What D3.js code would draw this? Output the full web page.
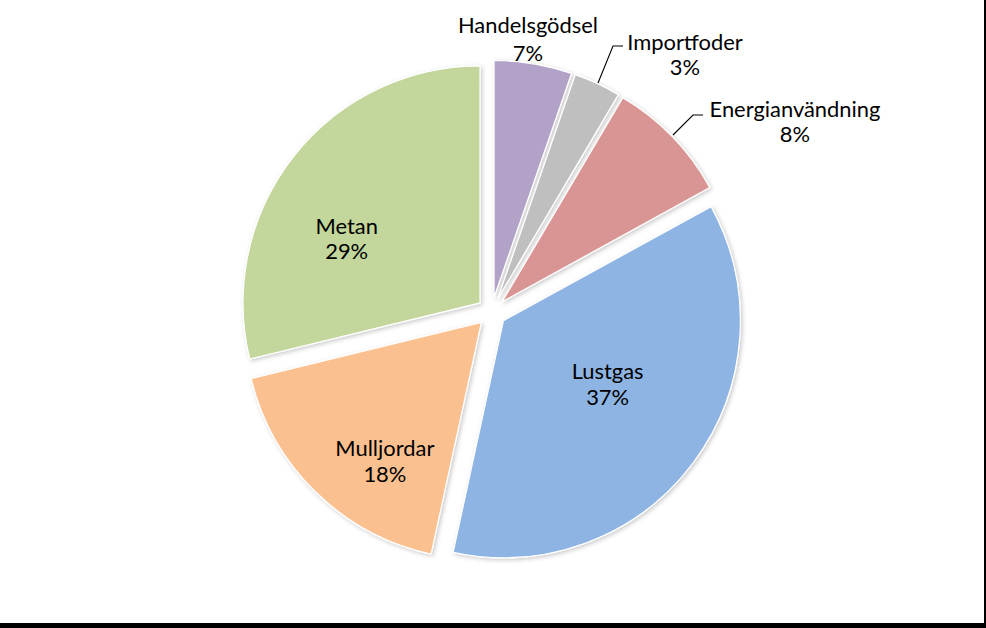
<!DOCTYPE html>
<html>
<head>
<meta charset="utf-8">
<script src="https://cdn.jsdelivr.net/npm/d3@7"></script>
<style>
  html, body { margin: 0; padding: 0; background: #fff; }
  svg { display: block; }
</style>
</head>
<body>
<svg id="chart" width="986" height="628"></svg>
<script>
// ---- data ----
const categories = ["Handelsgödsel", "Importfoder", "Energianvändning", "Lustgas", "Mulljordar", "Metan"];
const shares = [5.3, 3.2, 8.5, 36.4, 17.8, 28.8];          // slice sizes
const percentLabels = ["7%", "3%", "8%", "37%", "18%", "29%"]; // label text as printed
const colors = ["#B2A2C7", "#BFBFBF", "#D99594", "#8EB4E3", "#FAC090", "#C3D69B"];

// ---- layout ----
const W = 986, H = 628;
const cx = 491.6, cy = 312, R = 237, explode = 14.7;
const fontFamily = "Lato, 'Open Sans', sans-serif";
const lineGap = 25.5;

// label placement: inside labels relative to slice apex (angle deg clockwise from north, distance px)
// outside labels: centre x, first baseline y, line gap and leader polyline
const labelLayout = [
  { outside: true, x: 528, y: 33, gap: 27.5 },
  { outside: true, x: 685, y: 50, gap: 25, leader: [[598, 83], [613, 46], [623, 46]] },
  { outside: true, x: 795, y: 117, gap: 25, leader: [[673, 135], [693, 115], [703, 115]] },
  { outside: false, angle: 121.3, dist: 122 },
  { outside: false, angle: 214.8, dist: 169 },
  { outside: false, angle: 295.7, dist: 148 }
];

const svg = d3.select("#chart");
svg.append("rect").attr("width", W).attr("height", H).attr("fill", "#fff");

const defs = svg.append("defs");
const f = defs.append("filter").attr("id", "shadow")
  .attr("x", "-10%").attr("y", "-10%").attr("width", "120%").attr("height", "120%");
f.append("feDropShadow").attr("dx", 1.5).attr("dy", 1.5).attr("stdDeviation", 2)
  .attr("flood-color", "#000").attr("flood-opacity", 0.22);

const pie = d3.pie().sort(null).value(d => d).startAngle(0).endAngle(2 * Math.PI);
const arcs = pie(shares);
const arcGen = d3.arc().innerRadius(0).outerRadius(R);

function apex(a) {
  const mid = (a.startAngle + a.endAngle) / 2;
  return [cx + explode * Math.sin(mid), cy - explode * Math.cos(mid)];
}

const g = svg.append("g");
g.selectAll("path.slice").data(arcs).enter().append("path")
  .attr("class", "slice")
  .attr("d", arcGen)
  .attr("transform", d => { const p = apex(d); return `translate(${p[0]},${p[1]})`; })
  .attr("fill", (d, i) => colors[i])
  .attr("stroke", "#fff")
  .attr("stroke-width", 1.2)
  .attr("filter", "url(#shadow)");

// leader lines
arcs.forEach((d, i) => {
  const L = labelLayout[i];
  if (L.leader) {
    svg.append("polyline")
      .attr("points", L.leader.map(p => p.join(",")).join(" "))
      .attr("fill", "none").attr("stroke", "#000").attr("stroke-width", 1.1);
  }
});

// determine font size so that text widths match reference
const probe = svg.append("text").attr("font-family", fontFamily).attr("font-size", 20).text("Energianvändning");
const measured = probe.node().getComputedTextLength();
probe.remove();
const fontSize = Math.min(22, 20 * 171 / measured);

const labels = svg.append("g").attr("font-family", fontFamily).attr("font-size", fontSize)
  .attr("fill", "#000").attr("text-anchor", "middle");

arcs.forEach((d, i) => {
  const L = labelLayout[i];
  let x, y, gap = L.gap || lineGap;
  if (L.outside) {
    x = L.x; y = L.y;
  } else {
    const p = apex(d);
    const a = L.angle * Math.PI / 180;
    const lx = p[0] + L.dist * Math.sin(a);
    const ly = p[1] - L.dist * Math.cos(a);
    x = lx; y = ly - gap / 2 + fontSize * 0.35;
  }
  const t = labels.append("text").attr("x", x).attr("y", y);
  t.append("tspan").attr("x", x).attr("y", y).text(categories[i]);
  t.append("tspan").attr("x", x).attr("y", y + gap).text(percentLabels[i]);
});

// black frame at right and bottom
svg.append("rect").attr("x", 984).attr("y", 0).attr("width", 2).attr("height", H).attr("fill", "#000");
svg.append("rect").attr("x", 0).attr("y", 623).attr("width", W).attr("height", 5).attr("fill", "#000");
</script>
</body>
</html>
